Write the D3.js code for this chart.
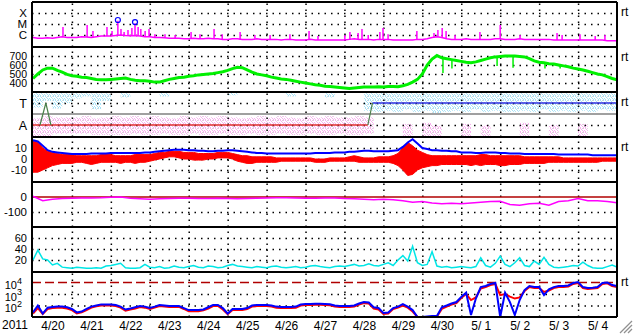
<!DOCTYPE html>
<html>
<head>
<meta charset="utf-8">
<script src="https://cdn.jsdelivr.net/npm/d3@7"></script>
<style>
body{margin:0;background:#fff;}
svg{display:block;font-family:"Liberation Sans",Arial,sans-serif;}
</style>
</head>
<body>
<svg id="chart" width="633" height="334"></svg>
<script>
// 2011-04-20 00:00 UT .. 2011-05-05 00:00 UT, samples every 3 h (121) or 6 h (61)
var startDay = Date.UTC(2011,3,20);
var yearLabel = '2011';
var dayLabels = ['4/20','4/21','4/22','4/23','4/24','4/25','4/26','4/27','4/28','4/29','4/30','5/ 1','5/ 2','5/ 3','5/ 4'];

// x-ray flux W/m2, 3-hourly background
var xrayBase = [
	6e-7,5e-7,5e-7,5.5e-7,5e-7,6e-7,7e-7,6e-7,
	6e-7,6e-7,7e-7,6.5e-7,6e-7,7e-7,8e-7,8e-7,
	8e-7,9e-7,1e-6,9e-7,8.5e-7,9e-7,8e-7,7e-7,
	7e-7,6e-7,6e-7,5.5e-7,5e-7,5e-7,5e-7,4.5e-7,
	4.5e-7,5e-7,4.5e-7,4.5e-7,5e-7,4.5e-7,4.5e-7,4e-7,
	4e-7,4.5e-7,4.5e-7,4e-7,4e-7,4e-7,4.5e-7,4e-7,
	4e-7,4e-7,4e-7,3.5e-7,4e-7,4e-7,3.5e-7,3.5e-7,
	3.5e-7,4e-7,3.5e-7,3.5e-7,3.5e-7,3.5e-7,3.5e-7,3.5e-7,
	3.5e-7,4e-7,4.5e-7,4e-7,4e-7,4e-7,3.5e-7,4e-7,
	4e-7,4e-7,3.5e-7,3.5e-7,3.5e-7,3.5e-7,3.5e-7,4e-7,
	4e-7,4.5e-7,6e-7,7e-7,6e-7,4.5e-7,4e-7,4e-7,
	4e-7,4.5e-7,4e-7,4e-7,4e-7,4e-7,4e-7,4.5e-7,
	4.5e-7,4e-7,4e-7,4e-7,4.5e-7,4e-7,4e-7,4e-7,
	4e-7,4e-7,4e-7,3.5e-7,3.5e-7,3.5e-7,3.5e-7,3.5e-7,
	3.5e-7,3.5e-7,3.5e-7,3.5e-7,3.5e-7,3.5e-7,3e-7,3e-7,
	3e-7];
// short flares [day, peak flux]
var xraySpikes = [[0.77,5.3e-6],[1.39,8.1e-6],[1.54,2.3e-6],[1.90,5.3e-6],[2.03,2.3e-6],[2.18,2.0e-5],[2.26,3.5e-6],
	[2.34,1.9e-6],[2.44,2.8e-6],[2.54,4.3e-6],[2.62,1.2e-5],[2.70,5.3e-6],[2.77,3.5e-6],[2.88,2.3e-6],[2.98,3.5e-6],
	[3.13,1.2e-6],[3.39,1.2e-6],[3.65,1.0e-6],[4.06,1.9e-6],[4.29,1.2e-6],[4.65,3.5e-6],[4.86,1.2e-6],[5.32,1.9e-6],
	[5.70,1.0e-6],[6.09,1.0e-6],[6.60,1.2e-6],[7.09,2.3e-6],[7.32,8.1e-7],[8.01,1.0e-6],[8.14,1.9e-6],[8.35,1.5e-6],
	[8.45,3.5e-6],[8.61,1.0e-6],[8.91,1.9e-6],[8.99,4.3e-6],[9.12,1.2e-6],[9.86,2.3e-6],[10.30,1.5e-6],[10.40,2.8e-6],
	[10.51,4.3e-6],[10.61,2.3e-6],[10.84,1.0e-6],[11.48,1.9e-6],[12.0,8.1e-6],[12.51,1.0e-6],[13.46,1.5e-6],
	[13.59,1.0e-6],[14.05,1.2e-6],[14.44,8.1e-7],[14.69,1.0e-6]];
var xrayEvents = [[2.18,2.3e-5],[2.62,1.5e-5]];
var xrayTicks = [1e-4,1e-5,1e-6];
var xrayLabels = ['X','M','C'];

// solar wind speed km/s, 3-hourly
var windSpeed = [
	450,500,545,565,565,540,520,495,
	480,475,465,460,450,440,435,435,
	440,445,450,455,440,430,425,425,
	420,410,410,425,440,450,460,465,
	475,480,490,495,500,505,515,525,
	540,560,575,570,545,520,500,490,
	480,465,455,445,440,430,420,410,
	400,390,380,375,365,360,355,350,
	345,340,345,350,355,355,356,358,
	356,362,360,358,370,385,410,440,
	500,600,665,705,680,670,660,650,
	640,630,625,635,650,665,680,690,
	695,700,700,700,695,690,670,645,
	630,625,615,610,600,590,580,565,
	555,545,530,515,500,490,470,450,
	435];
var speedDips = [[10.02,520],[10.53,510],[10.76,560],[11.92,590],[12.33,570],[13.15,560],[13.54,560]];
var speedTicks = [700,600,500,400];

// IMF sector scatter per 6 h bin: toward / away ranges (sector units)
var towardBand = [
	[0.6,2],[1.2,2],[0.5,2],[1.0,2],[1.4,2],[1.6,2],[0.4,2],[1.2,1.9],
	null,[1.5,2],null,null,null,[1.6,2],null,null,
	null,null,null,null,[1.7,2],null,null,null,
	null,null,[1.6,2],null,null,null,[1.5,2],null,
	null,null,[0.3,2],[0.2,2],[0.3,2],[0.2,2],[0.4,2],[0.2,2],
	[0.3,2],[0.1,2],[0.2,2],[0.3,2],[0.2,2],[0.4,2],[0.2,2],[0.3,2],
	[0.2,2],[0.2,2],[0.3,2],[0.2,2],[0.4,2],[0.2,2],[0.3,2],[0.2,2],
	[0.3,2],[0.2,2],[0.4,2],[0.3,2]];
var awayBand = [
	[-2,-0.4],[-2,-0.2],[-1.8,-0.3],[-1.8,-0.3],[-1.8,-0.3],[-1.8,-0.2],[-1.9,-0.4],[-1.9,-0.3],
	[-1.9,-0.2],[-1.9,-0.3],[-1.8,-0.2],[-1.9,-0.3],[-1.9,-0.2],[-1.8,-0.3],[-1.9,-0.4],[-1.9,-0.2],
	[-1.8,-0.3],[-1.9,-0.2],[-1.9,-0.3],[-1.8,-0.2],[-1.9,-0.3],[-1.9,-0.4],[-1.8,-0.3],[-1.9,-0.2],
	[-1.9,-0.3],[-1.8,-0.2],[-1.9,-0.3],[-1.9,-0.4],[-1.8,-0.2],[-1.9,-0.3],[-1.9,-0.2],[-1.8,-0.3],
	[-1.9,-0.3],[-1.9,-0.2],[-1.8,-0.3],null,null,null,[-2,-0.9],null,
	[-2,-0.8],[-2,-1.0],null,null,[-2,-0.9],null,[-2,-1.0],null,
	null,null,[-2,-0.8],null,null,[-2,-1.0],null,null,
	[-2,-0.9],null,null,null];
var sectorAway = [0,8.6];
var sectorToward = [8.72,15];
var sectorSwitch = [[[0.18,-1],[0.33,1],[0.46,-1]],[[8.6,-1],[8.72,1]]];
var sectorTicks = [1,-1];
var sectorLabels = ['T','A'];

// IMF Bt and Bz envelope nT, 3-hourly
var fieldBt = [
	17,16,12,8,6.5,6,5.5,5,
	4.5,4.5,4.5,4.5,5,5,5,5,
	5.5,5.5,5.5,5.5,5.5,5.5,5.5,6,
	6,6.5,7,7.5,8,8.5,8.5,8.5,
	8,8,7.5,7.5,7,7,7.5,7.5,
	8,8,7.5,7,6.5,6,5.5,5.5,
	5,5,5,5,5,5,5,5,
	5,5,5.5,5.5,5.5,5.5,6,6,
	6,6.5,6.5,7,7.5,7.5,7,7,
	7,7,7.5,8,11,15,18,14,
	10,9,8,8,7.5,7.5,7,7,
	6,6,6,5.5,5.5,6,6,6,
	5.5,5.5,5,5,5,4.5,4.5,4.5,
	4.5,4.5,4.5,4.5,4,4,4,4,
	4,4,4,3.5,3.5,3.5,3.5,3.5,
	3.5];
var fieldBzHi = [
	16,15,10,7,6,5,4,4,
	4,3,3,3,3,3,4,4,
	4,3,3,3,3,4,4,4,
	4,5,6,6,7,7,7,6,
	6,6,5,5,5,5,6,6,
	6,5,4,3,3,2,2,2,
	2,2,1,1,1,1,1,1,
	1,1,0,0,0,1,1,1,
	1,2,3,2,1,1,1,2,
	2,2,3,5,10,15,12,8,
	6,4,3,3,3,3,3,3,
	3,3,3,3,4,4,3,3,
	3,3,3,3,3,2,2,2,
	2,2,2,2,2,1,1,1,
	1,1,1,1,1,1,1,1,
	1];
var fieldBzLo = [
	-12,-12,-10,-8,-6,-5,-4,-4,
	-4,-3,-3,-4,-5,-4,-3,-3,
	-3,-3,-4,-3,-3,-4,-3,-3,
	-2,-1,0,1,2,2,1,0,
	0,-1,-1,-1,0,0,1,1,
	1,0,-2,-3,-4,-4,-3,-3,
	-3,-3,-3,-2,-2,-2,-2,-2,
	-2,-2,-3,-3,-3,-2,-2,-2,
	-2,-2,-2,-3,-3,-3,-3,-3,
	-3,-3,-4,-6,-10,-15,-14,-10,
	-8,-7,-6,-6,-5,-5,-5,-5,
	-5,-5,-6,-5,-6,-5,-5,-5,
	-6,-6,-5,-5,-5,-4,-4,-4,
	-4,-4,-3,-3,-3,-3,-3,-3,
	-3,-3,-3,-3,-3,-2,-2,-2,
	-2];
var fieldTicks = [10,0,-10];

// Dst nT, 6-hourly
var dstIndex = [
	5,-25,-15,-10, -8,-7,-6,-5, -2,0,-8,-12, -15,-12,-10,-8, -8,-10,-10,-8,
	-10,-12,-10,-8, -6,-5,-5,-7, -8,-8,-6,-6, -10,-12,-15,-18, -15,-18,-25,-35,
	-30,-40,-45,-42, -45,-40,-35,-30, -28,-50,-55,-45, -42,-55,-30,-25, -10,-25,-25,-30,
	-38];
var dstTicks = [0,-100];

// proton density /cc, 3-hourly
var density = [
	20,38,22,20,11,14,7,6,
	5,7,6,5,5,6,5,9,
	10,12,14,6,5,5,6,12,
	7,6,8,5,6,9,7,6,
	8,10,7,6,9,8,6,7,
	10,12,9,8,7,6,8,7,
	6,8,9,7,6,7,8,6,
	7,9,10,8,7,6,8,9,
	8,10,12,9,10,13,10,9,
	12,15,10,20,28,18,45,15,
	10,12,35,9,7,8,6,7,
	8,7,6,8,24,10,7,14,
	27,12,8,15,24,10,8,18,
	12,25,12,7,6,7,8,10,
	9,16,10,6,5,5,8,11,
	7];
var densityTicks = [60,40,20];

// >2 MeV electron flux, two satellites, 3-hourly
var electronBlue = [
	25,100,20,65,75,80,80,70,
	50,25,30,50,80,100,125,125,
	125,110,80,45,55,70,90,80,
	60,80,110,100,90,90,90,60,
	40,40,40,45,70,110,110,60,
	20,50,50,50,60,100,110,110,
	110,100,80,75,75,75,80,120,
	135,135,140,140,135,130,100,90,
	90,90,100,150,200,180,70,60,
	22,25,60,80,130,80,40,10,
	10,11,12,12,70,100,150,200,
	550,1300,15,400,4000,5000,7400,9000,
	10,1300,200,15,300,2200,5000,4000,
	4000,800,2500,4000,5000,5000,5500,9000,
	11000,4000,3300,3500,4000,9000,10000,6000,
	5000];
var electronRed = [
	20,60,18,50,60,65,65,55,
	40,20,25,40,65,85,100,100,
	100,90,65,35,45,55,75,65,
	50,65,90,80,75,75,75,50,
	32,32,32,38,55,90,90,45,
	18,40,40,40,50,80,90,90,
	90,80,65,60,60,60,65,100,
	110,110,115,115,110,105,80,75,
	75,75,80,120,160,150,55,45,
	18,20,50,65,100,65,30,10,
	10,10,10,11,50,80,120,160,
	450,1000,300,500,3000,4000,6000,7500,
	800,1000,600,400,500,1800,4000,3300,
	3300,1500,2000,3300,4000,4000,4500,7500,
	9000,3300,2700,3000,3300,7500,8500,5000,
	4000];
var electronTicks = [1e4,1e3,1e2];
var electronAlert = 1e4;

function DayToDate(d){return new Date(startDay+d*864e5);}
function Step3(v,i){return [DayToDate(i/8),v];}
function Step6(v,i){return [DayToDate(i/4),v];}

var svg = d3.select('#chart');
var left = 32, right = 617, bottom = 317;
var panelTop = [2,47,92,137,182,227,272];

var x = d3.scaleTime().domain([DayToDate(0),DayToDate(15)]).range([33,617]);

var yX = d3.scaleLog().domain([1e-7,1e-4]).range([46,13]);
var ySpeed = d3.scaleLinear().domain([400,700]).range([83,56]);
var ySector = d3.scaleLinear().domain([-1,1]).range([125,103]);
var yB = d3.scaleLinear().domain([-10,10]).range([170,148]);
var yDst = d3.scaleLinear().domain([-100,0]).range([212,197]);
var yDen = d3.scaleLinear().domain([20,60]).range([260,238]);
var yE = d3.scaleLog().domain([100,10000]).range([305.5,282.5]);

var defs = svg.append('defs');
panelTop.forEach(function(t,i)
{
	var b = i<panelTop.length-1?panelTop[i+1]:bottom;
	defs.append('clipPath').attr('id','clip'+i).append('rect')
		.attr('x',left).attr('y',t).attr('width',right-left).attr('height',b-t);
});

function AddSpeckle(id,colour)
{
	var p = defs.append('pattern').attr('id',id).attr('width',5).attr('height',4)
		.attr('patternUnits','userSpaceOnUse');
	[[0,0],[3,0],[1,1],[4,2],[2,2],[0,3],[3,3]].forEach(function(d)
	{
		p.append('rect').attr('x',d[0]).attr('y',d[1]).attr('width',1).attr('height',1).attr('fill',colour);
	});
	p.append('rect').attr('x',2).attr('y',0).attr('width',1).attr('height',1).attr('fill','#d6d6d6');
};
AddSpeckle('speckleT','#a6e2f6');
AddSpeckle('speckleA','#f6b0ee');

function Panel(i){return svg.append('g').attr('clip-path','url(#clip'+i+')');}

//sector scatter sits beneath the grid
var gSec = Panel(2);
var binW = x(DayToDate(0.25))-x(DayToDate(0));
function DrawBand(data,fill)
{
	data.forEach(function(r,i)
	{
		if(!r) return;
		gSec.append('rect').attr('x',x(DayToDate(i/4))).attr('width',binW)
			.attr('y',ySector(r[1])).attr('height',ySector(r[0])-ySector(r[1]))
			.attr('fill',fill);
	});
};
DrawBand(towardBand,'url(#speckleT)');
DrawBand(awayBand,'url(#speckleA)');

//grids
function HGrid(scale,values)
{
	var g = svg.append('g').attr('transform','translate('+left+',0)')
		.call(d3.axisLeft(scale).tickValues(values).tickSize(-(right-left)).tickFormat(''));
	g.select('.domain').remove();
	g.selectAll('line').attr('stroke','#000').attr('stroke-width',1.5).attr('stroke-dasharray','1.5,5');
};
HGrid(yX,xrayTicks);
HGrid(ySpeed,speedTicks);
HGrid(ySector,sectorTicks);
HGrid(yB,fieldTicks);
HGrid(yDst,[-100]);
HGrid(yDen,densityTicks);
HGrid(yE,[1e3,1e2]);

var midnights = d3.range(1,15).map(DayToDate);
var vg = svg.append('g').attr('transform','translate(0,'+bottom+')')
	.call(d3.axisBottom(x).tickValues(midnights).tickSize(-(bottom-panelTop[0])).tickFormat(''));
vg.select('.domain').remove();
vg.selectAll('line').attr('stroke','#000').attr('stroke-width',1.5).attr('stroke-dasharray','1.5,4.5');

//panel 1: x-ray
var g1 = Panel(0);
var xrayPts = xrayBase.map(Step3);
g1.append('path').datum(xrayPts)
	.attr('d',d3.line().x(d=>x(d[0])).y(d=>yX(d[1])))
	.attr('fill','none').attr('stroke','#ff00ff').attr('stroke-width',1.5);
g1.selectAll('.spike').data(xraySpikes).enter().append('line')
	.attr('x1',d=>x(DayToDate(d[0]))).attr('x2',d=>x(DayToDate(d[0])))
	.attr('y1',d=>yX(xrayBase[Math.round(d[0]*8)])).attr('y2',d=>yX(d[1]))
	.attr('stroke','#ff00ff').attr('stroke-width',1.5);
g1.selectAll('circle').data(xrayEvents).enter().append('circle')
	.attr('cx',d=>x(DayToDate(d[0]))).attr('cy',d=>yX(d[1])).attr('r',2.5)
	.attr('fill','none').attr('stroke','#0000ff').attr('stroke-width',1.2);

//panel 2: speed
var g2 = Panel(1);
g2.append('path').datum(windSpeed.map(Step3))
	.attr('d',d3.line().x(d=>x(d[0])).y(d=>ySpeed(d[1])))
	.attr('fill','none').attr('stroke','#00f000').attr('stroke-width',3);
g2.selectAll('.dip').data(speedDips).enter().append('line')
	.attr('x1',d=>x(DayToDate(d[0]))).attr('x2',d=>x(DayToDate(d[0])))
	.attr('y1',d=>ySpeed(windSpeed[Math.round(d[0]*8)])).attr('y2',d=>ySpeed(d[1]))
	.attr('stroke','#00f000').attr('stroke-width',1.5);

//panel 3: sector
var g3 = Panel(2);
g3.append('line').attr('x1',left).attr('x2',right).attr('y1',ySector(0)).attr('y2',ySector(0))
	.attr('stroke','#808080').attr('stroke-width',1.5);
g3.append('line').attr('x1',x(DayToDate(sectorAway[0]))).attr('x2',x(DayToDate(sectorAway[1])))
	.attr('y1',ySector(-1)).attr('y2',ySector(-1)).attr('stroke','#e03030').attr('stroke-width',1.5);
g3.append('line').attr('x1',x(DayToDate(sectorToward[0]))).attr('x2',x(DayToDate(sectorToward[1])))
	.attr('y1',ySector(1)).attr('y2',ySector(1)).attr('stroke','#3030e0').attr('stroke-width',1.5);
sectorSwitch.forEach(function(s)
{
	g3.append('path').datum(s)
		.attr('d',d3.line().x(d=>x(DayToDate(d[0]))).y(d=>ySector(d[1])))
		.attr('fill','none').attr('stroke','#4a804a').attr('stroke-width',1.2);
});

//panel 4: IMF
var g4 = Panel(3);
g4.append('path').datum(fieldBzHi.map(function(v,i){return [DayToDate(i/8),fieldBzLo[i],v];}))
	.attr('d',d3.area().x(d=>x(d[0])).y0(d=>yB(d[1])).y1(d=>yB(d[2])))
	.attr('fill','#ff0000').attr('stroke','#ff0000').attr('stroke-width',1);
g4.append('path').datum(fieldBt.map(Step3))
	.attr('d',d3.line().x(d=>x(d[0])).y(d=>yB(d[1])))
	.attr('fill','none').attr('stroke','#0000ff').attr('stroke-width',2);

//panel 5: Dst
var g5 = Panel(4);
g5.append('line').attr('x1',left).attr('x2',right).attr('y1',yDst(0)).attr('y2',yDst(0))
	.attr('stroke','#b00000').attr('stroke-width',1.5);
g5.append('path').datum(dstIndex.map(Step6))
	.attr('d',d3.line().x(d=>x(d[0])).y(d=>yDst(d[1])))
	.attr('fill','none').attr('stroke','#ff00ff').attr('stroke-width',1.5);

//panel 6: density
var g6 = Panel(5);
g6.append('path').datum(density.map(Step3))
	.attr('d',d3.line().x(d=>x(d[0])).y(d=>yDen(d[1])))
	.attr('fill','none').attr('stroke','#00e6e6').attr('stroke-width',1.5);

//panel 7: electrons
var g7 = Panel(6);
g7.append('line').attr('x1',left).attr('x2',right).attr('y1',yE(electronAlert)).attr('y2',yE(electronAlert))
	.attr('stroke','#b00000').attr('stroke-width',1.5).attr('stroke-dasharray','9,4');
g7.append('path').datum(electronRed.map(Step3))
	.attr('d',d3.line().x(d=>x(d[0])).y(d=>yE(d[1])))
	.attr('fill','none').attr('stroke','#ff0000').attr('stroke-width',2);
g7.append('path').datum(electronBlue.map(Step3))
	.attr('d',d3.line().x(d=>x(d[0])).y(d=>yE(d[1])))
	.attr('fill','none').attr('stroke','#0000ff').attr('stroke-width',2);

//frame
var frame = svg.append('g').attr('stroke','#000').attr('stroke-width',2);
panelTop.concat([bottom]).forEach(function(t)
{
	frame.append('line').attr('x1',left).attr('x2',right).attr('y1',t).attr('y2',t);
});
frame.append('line').attr('x1',left).attr('x2',left).attr('y1',panelTop[0]).attr('y2',bottom);
frame.append('line').attr('x1',right).attr('x2',right).attr('y1',panelTop[0]).attr('y2',bottom);

//left labels
function LeftAxis(scale,values,labels,size)
{
	var g = svg.append('g').attr('transform','translate('+(left-5)+',0)')
		.call(d3.axisLeft(scale).tickValues(values).tickSize(0).tickPadding(0)
			.tickFormat(function(d,i){return labels?labels[i]:d;}));
	g.select('.domain').remove();
	g.attr('font-family','"Liberation Sans",Arial,sans-serif').attr('font-size',size);
	g.selectAll('text').attr('fill','#000');
	return g;
};
LeftAxis(yX,xrayTicks,xrayLabels,11.5);
LeftAxis(ySpeed,speedTicks,null,10.5);
LeftAxis(ySector,sectorTicks,sectorLabels,12.5);
LeftAxis(yB,fieldTicks,null,11);
LeftAxis(yDst,dstTicks,null,11.5);
LeftAxis(yDen,densityTicks,null,11);
var ea = LeftAxis(yE,electronTicks,null,11);
ea.selectAll('text').each(function(d)
{
	var t = d3.select(this).text('').attr('x',-5).attr('dy','0.55em');
	t.append('tspan').text('10');
	t.append('tspan').attr('font-size',9).attr('dy','-0.6em').text(Math.round(Math.log10(d)));
});

//date labels at noon
var xa = svg.append('g').attr('transform','translate(0,'+bottom+')')
	.call(d3.axisBottom(x).tickValues(d3.range(15).map(function(i){return DayToDate(i+0.5);}))
		.tickSize(0).tickPadding(4).tickFormat(function(d,i){return dayLabels[i];}));
xa.select('.domain').remove();
xa.attr('font-family','"Liberation Sans",Arial,sans-serif').attr('font-size',12);
xa.selectAll('text').attr('fill','#000');
svg.append('text').attr('x',2).attr('y',329).attr('font-size',12).text(yearLabel);

//rt marks
[0,1,2,3,6].forEach(function(i)
{
	svg.append('text').attr('x',621).attr('y',panelTop[i]+14).attr('font-size',12).text('rt');
});

//resize grip
[0,4,8].forEach(function(o)
{
	svg.append('line').attr('x1',620+o).attr('y1',333).attr('x2',632).attr('y2',321+o)
		.attr('stroke','#909090').attr('stroke-width',1.2);
});
</script>
</body>
</html>
